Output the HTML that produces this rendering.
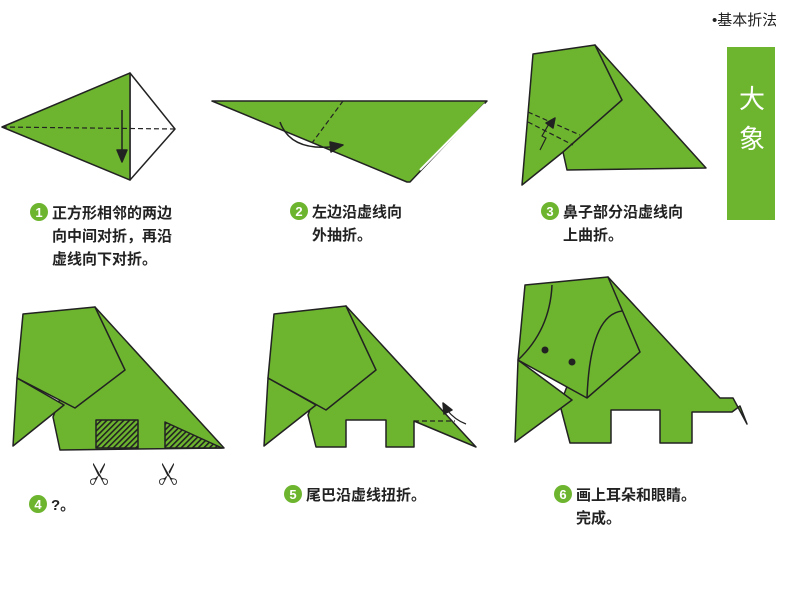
<!DOCTYPE html>
<html><head><meta charset="utf-8"><style>
html,body{margin:0;padding:0;background:#fff;}
svg{display:block;}
text{font-family:"Liberation Sans","Noto Sans CJK SC",sans-serif;}
</style></head><body>
<svg width="800" height="603" viewBox="0 0 800 603" xmlns="http://www.w3.org/2000/svg">
<defs>
<pattern id="h" width="4" height="4" patternUnits="userSpaceOnUse" patternTransform="rotate(45)">
<rect width="4" height="4" fill="#6db52e"/><rect width="1.6" height="4" fill="#222"/>
</pattern>
</defs>
<g stroke="#222" stroke-width="1.5" stroke-linejoin="round">
<!-- Fig1 -->
<polygon points="130,73 175,129 130,180" fill="#fff"/>
<polygon points="2,127 130,73 130,180" fill="#6db52e"/>
<line x1="2" y1="127" x2="175" y2="129" stroke-dasharray="5,3" stroke-width="1.2"/>
<line x1="122" y1="110" x2="122" y2="152"/>
<polygon points="117,150 127,150 122,162" fill="#222"/>
<!-- Fig2 -->
<polygon points="212,101 487,101 410,182 407,182" fill="#6db52e"/>
<line x1="420" y1="170" x2="485" y2="104" stroke="#fff" stroke-width="2"/>
<line x1="343" y1="101" x2="312" y2="143" stroke-dasharray="5,3" stroke-width="1.2"/>
<path d="M280,122 Q290,150 330,147" fill="none"/>
<polygon points="330,142 343,145 331,152" fill="#222"/>
<!-- Fig3 -->
<polygon points="595,45 706,168 567,170 563,152" fill="#6db52e"/>
<polygon points="533,54 595,45 622,100 563,152 522,185" fill="#6db52e"/>
<line x1="528" y1="112" x2="580" y2="135" stroke-dasharray="5,3" stroke-width="1.2"/>
<line x1="528" y1="122" x2="573" y2="145" stroke-dasharray="5,3" stroke-width="1.2"/>
<path d="M540,150 L546,138 L542,136 L550,122" fill="none" stroke-width="1.2"/>
<polygon points="546,123 555,118 553,128" fill="#222"/>
<!-- Fig4 -->
<polygon points="95,307 224,448 60,450 53,417" fill="#6db52e"/>
<polygon points="17,378 64,405 13,446" fill="#6db52e"/>
<polygon points="23,314 95,307 125,370 75,408 17,378" fill="#6db52e"/>
<rect x="96" y="420" width="42" height="28" fill="url(#h)"/>
<polygon points="165,422 165,448 222,448" fill="url(#h)"/>
<!-- Fig5 -->
<polygon points="346,306 476,447 414,421 414,447 386,447 386,420 346,420 346,447 316,447 308,415" fill="#6db52e"/>
<polygon points="268,378 316,405 264,446" fill="#6db52e"/>
<polygon points="274,314 346,306 376,370 326,410 268,378" fill="#6db52e"/>
<line x1="414" y1="421" x2="455" y2="421" stroke-dasharray="5,3" stroke-width="1.2"/>
<path d="M447,410 Q455,420 466,424" fill="none" stroke-width="1.2"/>
<polygon points="443,403 452,410 444,414" fill="#222"/>
<!-- Fig6 -->
<polygon points="608,277 720,398 733,398 747,424 740,406 732,412 692,412 692,443 660,443 660,410 611,410 611,443 570,443 560,405" fill="#6db52e"/>
<polygon points="518,360 572,400 515,442" fill="#6db52e"/>
<polygon points="525,285 608,277 640,352 587,398 518,360" fill="#6db52e"/>
<path d="M552,285 Q550,330 518,360" fill="none"/>
<path d="M622,311 Q590,315 587,398" fill="none"/>
</g>
<circle cx="545" cy="350" r="3.5" fill="#222"/>
<circle cx="572" cy="362" r="3.5" fill="#222"/>
<!-- scissors -->
<g font-size="24" fill="#222" text-anchor="middle"><text x="98" y="484" transform="rotate(-90 98 474)">✂</text><text x="167" y="484" transform="rotate(-90 167 474)">✂</text></g>
<!-- Side box -->
<rect x="727" y="47" width="48" height="173" fill="#6db52e"/>
<text x="752" y="108" font-size="26" fill="#fff" text-anchor="middle">大</text>
<text x="752" y="148" font-size="26" fill="#fff" text-anchor="middle">象</text>
<text x="712" y="25" font-size="15" fill="#222">•基本折法</text>
<rect x="776" y="0" width="24" height="603" fill="#fff"/>
<!-- labels -->
<g font-size="15" fill="#222" font-weight="bold">
<circle cx="39" cy="212" r="9" fill="#6db52e"/><text x="39" y="217" font-size="13" fill="#fff" text-anchor="middle">1</text>
<text x="52" y="218">正方形相邻的两边</text><text x="52" y="241">向中间对折，再沿</text><text x="52" y="264">虚线向下对折。</text>
<circle cx="299" cy="211" r="9" fill="#6db52e"/><text x="299" y="216" font-size="13" fill="#fff" text-anchor="middle">2</text>
<text x="312" y="217">左边沿虚线向</text><text x="312" y="240">外抽折。</text>
<circle cx="550" cy="211" r="9" fill="#6db52e"/><text x="550" y="216" font-size="13" fill="#fff" text-anchor="middle">3</text>
<text x="563" y="217">鼻子部分沿虚线向</text><text x="563" y="240">上曲折。</text>
<circle cx="38" cy="504" r="9" fill="#6db52e"/><text x="38" y="509" font-size="13" fill="#fff" text-anchor="middle">4</text>
<text x="51" y="510">?。</text>
<circle cx="293" cy="494" r="9" fill="#6db52e"/><text x="293" y="499" font-size="13" fill="#fff" text-anchor="middle">5</text>
<text x="306" y="500">尾巴沿虚线扭折。</text>
<circle cx="563" cy="494" r="9" fill="#6db52e"/><text x="563" y="499" font-size="13" fill="#fff" text-anchor="middle">6</text>
<text x="576" y="500">画上耳朵和眼睛。</text><text x="576" y="523">完成。</text>
</g>
</svg>
</body></html>
